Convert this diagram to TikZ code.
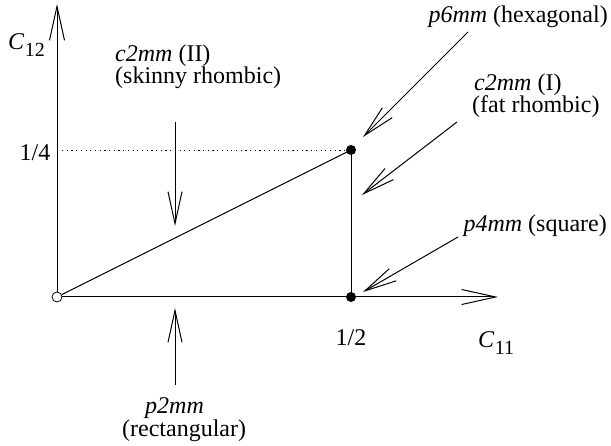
\documentclass[tikz,border=0pt]{standalone}
\usepackage{fontspec}
\setmainfont{Liberation Serif}
\usetikzlibrary{arrows.meta}
\begin{document}
\begin{tikzpicture}[x=1pt,y=-1pt,
  lbl/.style={inner sep=0pt,font=\fontsize{24}{28}\selectfont},
  sub/.style={inner sep=0pt,font=\fontsize{20}{24}\selectfont},
  dotn/.style={circle,fill=black,inner sep=0pt,minimum size=10pt},
  odot/.style={circle,draw=black,line width=0.8pt,inner sep=0pt,minimum size=10pt},
  ln/.style={line width=1pt},
  axarr/.style={ln,-{Straight Barb[length=34pt,width=15pt,line width=1pt]}},
  larr/.style={ln,-{Straight Barb[length=32pt,width=14pt,line width=1pt]}}]
\useasboundingbox (0,0) rectangle (611,446);
% points
\node[odot] (O) at (57,297) {};
\node[dotn] (A) at (351,150) {};
\node[dotn] (B) at (351,297) {};
\coordinate (ytip) at (57,4);
\coordinate (xtip) at (498,297);
\coordinate (q) at (62,150);
% axes
\draw[axarr] (O.north) -- (ytip);
\draw[axarr] (O.east) -- (xtip);
\draw[ln] (O) -- (A.center);
\draw[ln] (A.center) -- (B.center);
\draw[line width=0.8pt,dash pattern=on 1.2pt off 3.5pt] (q) -- (A.west);
% axis labels
\node[lbl,anchor=base west] (c12) at (8,50) {\textit{C}};
\node[sub,anchor=base west] (c12s) at (c12.base east) {\raisebox{-7pt}{12}};
\node[lbl,anchor=base] (q4) at (35,161) {1/4};
\node[lbl,anchor=base] (h2) at (351,346) {1/2};
\node[lbl,anchor=base west] (c11) at (478,348) {\textit{C}};
\node[sub,anchor=base west] (c11s) at (c11.base east) {\raisebox{-7pt}{11}};
% labels
\node[lbl,anchor=base west] (c2a) at (115,62) {\textit{c2mm} (II)};
\node[lbl,anchor=base west] (c2b) at (115,84) {(skinny rhombic)};
\node[lbl,anchor=base east] (p6) at (608,23) {\textit{p6mm} (hexagonal)};
\node[lbl,anchor=base west] (c1a) at (474,91) {\textit{c2mm} (I)};
\node[lbl,anchor=base west] (c1b) at (472,113) {(fat rhombic)};
\node[lbl,anchor=base east] (p4) at (607,232) {\textit{p4mm} (square)};
\node[lbl,anchor=base west] (p2a) at (145,414) {\textit{p2mm}};
\node[lbl,anchor=base west] (p2b) at (122,437) {(rectangular)};
% label arrows
\coordinate (s1) at (175,122); \coordinate (t1) at (175,226);
\coordinate (s2) at (468,32);  \coordinate (t2) at (363,137);
\coordinate (s3) at (457,122); \coordinate (t3) at (362,195);
\coordinate (s4) at (458,237); \coordinate (t4) at (363,292);
\coordinate (s5) at (175,385); \coordinate (t5) at (175,308);
\draw[larr] (s1) -- (t1);
\draw[larr] (s2) -- (t2);
\draw[larr] (s3) -- (t3);
\draw[larr] (s4) -- (t4);
\draw[larr] (s5) -- (t5);
\end{tikzpicture}
\end{document}
